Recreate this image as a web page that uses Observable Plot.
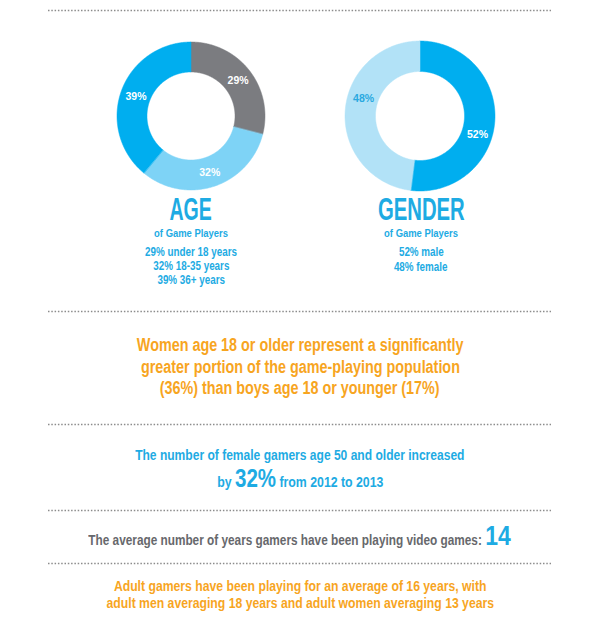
<!DOCTYPE html>
<html>
<head>
<meta charset="utf-8">
<script src="https://cdn.jsdelivr.net/npm/d3@7"></script>
<script src="https://cdn.jsdelivr.net/npm/@observablehq/plot@0.6"></script>
<style>
  html, body { margin: 0; padding: 0; background: #fff; }
  #wrap { position: relative; width: 600px; height: 621px; overflow: hidden; }
  #wrap svg { position: absolute; left: 0; top: 0; }
  .t { position: absolute; white-space: nowrap; text-align: center;
       font-family: "Liberation Sans", Arial, sans-serif;
       font-weight: bold; }
  .t > span { display: inline-block; transform: scaleX(var(--k, 0.82)); }
</style>
</head>
<body>
<div id="wrap"></div>
<script>
// ---------------- data ----------------
const ageGroups = ["under 18 years", "18-35 years", "36+ years"];
const ageShares = [29, 32, 39];
const genderGroups = ["male", "female"];
const genderShares = [52, 48];

const womenAdultShare = 36;      // women age 18 or older
const boysShare = 17;            // boys age 18 or younger
const femaleOver50Growth = 32;   // % increase
const growthYears = [2012, 2013];
const avgYearsPlaying = 14;
const adultAvgYears = 16;
const adultMenAvgYears = 18;
const adultWomenAvgYears = 13;

// ---------------- styles / layout ----------------
const TEXT_BLUE = "#1eabe3";
const ORANGE = "#f7a51f";
const GRAY_TEXT = "#67686c";
const ageColors = ["#7b7c80", "#7ed3f6", "#00aeef"];
const genderColors = ["#00aeef", "#b2e2f7"];
const ageLabelColors = ["#ffffff", "#ffffff", "#ffffff"];
const genderLabelColors = ["#ffffff", "#2aa9e0"];
const FONT = '"Liberation Sans", Arial, sans-serif';
const K = 0.82; // horizontal condensing of the bold sans (narrow look)

const charts = [
  {key: "age", values: ageShares, colors: ageColors, labelColors: ageLabelColors, cx: 191, cy: 116, r0: 44, r1: 74, labelOffset: 0},
  {key: "gender", values: genderShares, colors: genderColors, labelColors: genderLabelColors, cx: 420, cy: 116, r0: 44.5, r1: 75, labelOffset: 14 * Math.PI / 180}
];
const separatorYs = [10, 311, 424, 510, 563];

// ring-sector outlines and label anchors from the data via d3.pie
const ringPts = [];
const labels = [];
for (const c of charts) {
  const arcs = d3.pie().sort(null).value(d => d)(c.values);
  arcs.forEach((a, i) => {
    const n = Math.max(4, Math.ceil((a.endAngle - a.startAngle) / 0.01));
    for (let j = 0; j <= n; j++) {
      const t = a.startAngle + (a.endAngle - a.startAngle) * j / n;
      ringPts.push({
        slice: c.key + i, color: c.colors[i],
        xi: c.cx + c.r0 * Math.sin(t), yi: c.cy - c.r0 * Math.cos(t),
        xo: c.cx + c.r1 * Math.sin(t), yo: c.cy - c.r1 * Math.cos(t)
      });
    }
    const mid = (a.startAngle + a.endAngle) / 2 + c.labelOffset;
    const rm = (c.r0 + c.r1) / 2;
    labels.push({x: c.cx + rm * Math.sin(mid), y: c.cy - rm * Math.cos(mid), text: a.data + "%", color: c.labelColors[i]});
  });
}

const chart = Plot.plot({
  width: 600,
  height: 621,
  margin: 0,
  x: {domain: [0, 600], range: [0, 600], axis: null},
  y: {domain: [0, 621], range: [0, 621], axis: null},
  color: {type: "identity"},
  style: {background: "white"},
  marks: [
    Plot.ruleY(separatorYs, {x1: 48, x2: 551, stroke: "#8c8c8c", strokeWidth: 1.5, strokeDasharray: "1.5,1.8"}),
    Plot.area(ringPts, {x1: "xi", y1: "yi", x2: "xo", y2: "yo", z: "slice", fill: "color", stroke: "color", strokeWidth: 0.5}),
    Plot.text(labels, {x: "x", y: "y", text: "text", fill: "color", fontSize: 10.5, fontWeight: "bold", fontFamily: FONT})
  ]
});
const wrap = document.getElementById("wrap");
wrap.appendChild(chart);

// ---------------- text blocks ----------------
function addLine(html, cx, cy, size, color, k = K) {
  const lh = size;
  const d = document.createElement("div");
  d.className = "t";
  d.style.left = (cx - 300) + "px";
  d.style.width = "600px";
  d.style.top = (cy - lh / 2) + "px";
  d.style.height = lh + "px";
  d.style.lineHeight = lh + "px";
  d.style.fontSize = size + "px";
  d.style.color = color;
  d.style.setProperty("--k", k);
  d.innerHTML = "<span>" + html + "</span>";
  wrap.appendChild(d);
}
const big = (txt, size, color) =>
  `<span style="font-size:${size}px;line-height:0;color:${color}">${txt}</span>`;

// AGE block
addLine("AGE", 191, 209.5, 31, TEXT_BLUE, 0.63);
addLine("of Game Players", 191, 233.5, 11.5, TEXT_BLUE);
ageGroups.forEach((g, i) => addLine(`${ageShares[i]}% ${g}`, 191, 252 + i * 14, 12, TEXT_BLUE));

// GENDER block
addLine("GENDER", 421, 209.5, 31, TEXT_BLUE, 0.655);
addLine("of Game Players", 421, 233.5, 11.5, TEXT_BLUE);
genderGroups.forEach((g, i) => addLine(`${genderShares[i]}% ${g}`, 421, 251.5 + i * 15, 12, TEXT_BLUE));

// Orange statement
addLine("Women age 18 or older represent a significantly", 300, 346, 17.5, ORANGE);
addLine("greater portion of the game-playing population", 300, 367.5, 17.5, ORANGE);
addLine(`(${womenAdultShare}%) than boys age 18 or younger (${boysShare}%)`, 300, 389, 17.5, ORANGE);

// Blue statement
addLine("The number of female gamers age 50 and older increased", 300, 455.5, 14.7, TEXT_BLUE);
addLine(`by ${big(femaleOver50Growth + "%", 25, TEXT_BLUE)} from ${growthYears[0]} to ${growthYears[1]}`, 300, 481.5, 15, TEXT_BLUE);

// Gray statement
addLine(`The average number of years gamers have been playing video games: ${big(avgYearsPlaying, 28, TEXT_BLUE)}`, 300, 540.5, 14.4, GRAY_TEXT);

// Orange footer
addLine(`Adult gamers have been playing for an average of ${adultAvgYears} years, with`, 300, 586, 14.9, ORANGE);
addLine(`adult men averaging ${adultMenAvgYears} years and adult women averaging ${adultWomenAvgYears} years`, 300, 603.5, 14.9, ORANGE);
</script>
</body>
</html>
